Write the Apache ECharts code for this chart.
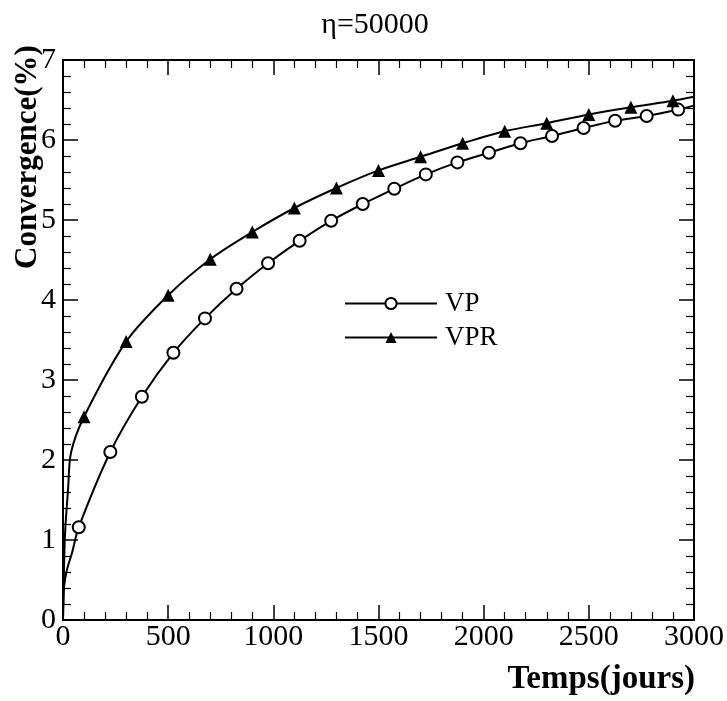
<!DOCTYPE html>
<html>
<head>
<meta charset="utf-8">
<script src="https://cdn.jsdelivr.net/npm/echarts@6/dist/echarts.min.js"></script>
<style>
  html, body { margin: 0; padding: 0; background: #fff; }
  #chart { width: 727px; height: 701px; }
</style>
</head>
<body>
<div id="chart"></div>
<script>
  // VP (circles) - marker readings
  const vpMarkDays = [75, 225, 375, 525, 675, 825, 975, 1125, 1275, 1425, 1575, 1725, 1875, 2025, 2175, 2325, 2475, 2625, 2775, 2925]
  const vpMarkValues = [1.16, 2.10, 2.79, 3.34, 3.77, 4.14, 4.46, 4.74, 4.99, 5.20, 5.39, 5.57, 5.72, 5.84, 5.96, 6.05, 6.15, 6.24, 6.30, 6.38]
  // VP curve readings between markers (origin and ends)
  const vpCurveDays = [0, 5, 19, 43, 3000]
  const vpCurveValues = [0, 0.41, 0.63, 0.84, 6.43]

  // VPR (triangles) - marker readings
  const vprMarkDays = [100, 300, 500, 700, 900, 1100, 1300, 1500, 1700, 1900, 2100, 2300, 2500, 2700, 2900]
  const vprMarkValues = [2.54, 3.48, 4.06, 4.51, 4.85, 5.15, 5.40, 5.62, 5.79, 5.96, 6.11, 6.21, 6.32, 6.41, 6.49]
  const vprCurveDays = [0, 5, 10, 24, 38, 3000]
  const vprCurveValues = [0, 0.66, 1.10, 1.63, 2.09, 6.54]

  const serif = '"Liberation Serif", "DejaVu Serif", serif'

  function buildData (curveDays, curveValues, markDays, markValues) {
    let pts = []
    for (let i = 0; i < curveDays.length; i++) {
      pts.push({ value: [curveDays[i], curveValues[i]], symbol: 'none' })
    }
    for (let i = 0; i < markDays.length; i++) {
      pts.push({ value: [markDays[i], markValues[i]] })
    }
    pts.sort(function (a, b) { return a.value[0] - b.value[0] })
    return pts
  }

  const axisLine = { show: true, onZero: false, lineStyle: { color: '#000', width: 2 } }
  const tick = { show: true, inside: true, length: 15, lineStyle: { color: '#000', width: 1.5 } }
  const minorTick = { show: true, splitNumber: 5, length: 8, lineStyle: { color: '#000', width: 1.2 } }
  const plain = function (v) { return String(v) }

  let chart = echarts.init(document.getElementById('chart'))
  chart.setOption({
    animation: false,
    backgroundColor: '#fff',
    grid: { left: 63, right: 33, top: 60, bottom: 81 },
    xAxis: [{
      type: 'value', min: 0, max: 3000, interval: 500, position: 'bottom',
      axisLine: axisLine, axisTick: tick, minorTick: minorTick,
      splitLine: { show: false },
      axisLabel: { color: '#000', fontFamily: serif, fontSize: 30, margin: 2, formatter: plain }
    }, {
      type: 'value', min: 0, max: 3000, interval: 500, position: 'top',
      axisLine: axisLine, axisTick: tick, minorTick: minorTick,
      splitLine: { show: false }, axisLabel: { show: false }
    }],
    yAxis: [{
      type: 'value', min: 0, max: 7, interval: 1, position: 'left',
      axisLine: axisLine, axisTick: tick, minorTick: minorTick,
      splitLine: { show: false },
      axisLabel: { color: '#000', fontFamily: serif, fontSize: 30, margin: 7, formatter: plain }
    }, {
      type: 'value', min: 0, max: 7, interval: 1, position: 'right',
      axisLine: axisLine, axisTick: tick, minorTick: minorTick,
      splitLine: { show: false }, axisLabel: { show: false }
    }],
    legend: {
      orient: 'vertical', left: 339, top: 285,
      itemWidth: 92, itemHeight: 14, itemGap: 7,
      textStyle: { color: '#000', fontFamily: serif, fontSize: 27, padding: [0, 0, 0, 3] },
      data: ['VP', 'VPR']
    },
    graphic: [
      {
        type: 'text', x: 375, y: 25,
        style: { text: 'η=50000', font: '30px ' + serif, fill: '#000', textAlign: 'center', textVerticalAlign: 'middle' }
      },
      {
        type: 'text', x: 695, y: 679,
        style: { text: 'Temps(jours)', font: 'bold 33px ' + serif, fill: '#000', textAlign: 'right', textVerticalAlign: 'middle' }
      },
      {
        type: 'text', x: 28, y: 157, rotation: Math.PI / 2,
        style: { text: 'Convergence(%)', font: 'bold 31px ' + serif, fill: '#000', textAlign: 'center', textVerticalAlign: 'middle' }
      }
    ],
    series: [{
      name: 'VP',
      type: 'line',
      smooth: 0.3,
      showAllSymbol: true,
      symbol: 'emptyCircle',
      symbolSize: 12,
      lineStyle: { color: '#000', width: 2 },
      itemStyle: { color: '#000', borderColor: '#000', borderWidth: 1.5 },
      data: buildData(vpCurveDays, vpCurveValues, vpMarkDays, vpMarkValues)
    }, {
      name: 'VPR',
      type: 'line',
      smooth: 0.3,
      showAllSymbol: true,
      symbol: 'triangle',
      symbolSize: 13,
      lineStyle: { color: '#000', width: 2 },
      itemStyle: { color: '#000' },
      data: buildData(vprCurveDays, vprCurveValues, vprMarkDays, vprMarkValues)
    }]
  })
</script>
</body>
</html>
